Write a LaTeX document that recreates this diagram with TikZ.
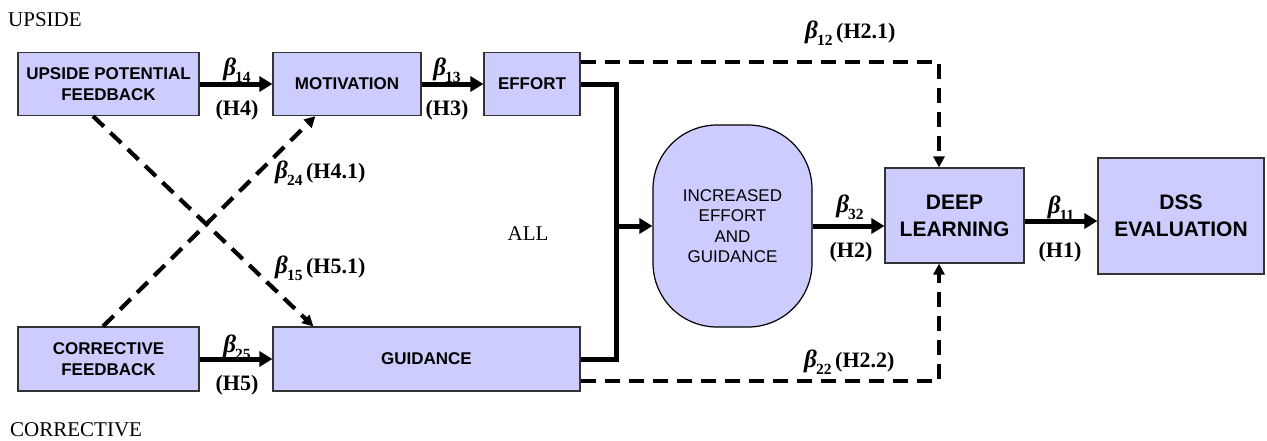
\documentclass[tikz,border=0pt]{standalone}
\usepackage{fontspec}
\setmainfont{Liberation Serif}
\setsansfont{Liberation Sans}
\usetikzlibrary{arrows.meta,calc}
\definecolor{boxfill}{HTML}{CCCCFF}
\definecolor{boxline}{HTML}{333333}
\newcommand{\bsym}[1]{{\fontsize{25}{26}\selectfont\bfseries\itshape β}\kern-1pt\raisebox{-0.3em}{\fontsize{15.5}{15.5}\selectfont\bfseries #1}}
\begin{document}
\begin{tikzpicture}[x=1pt,y=-1pt,
  box/.style={draw=boxline, line width=1.2pt, fill=boxfill, inner sep=0pt, align=center,
    font=\sffamily\bfseries\fontsize{17}{21.5}\selectfont},
  bigbox/.style={box, font=\sffamily\bfseries\fontsize{21}{27}\selectfont},
  blob/.style={draw=black, line width=1.2pt, fill=boxfill, inner sep=0pt, align=center,
    rounded corners=64pt, font=\sffamily\fontsize{17}{20.5}\selectfont},
  solidarr/.style={line width=5pt, -{Triangle[length=13pt,width=15pt]}},
  solidline/.style={line width=5pt},
  dashline/.style={line width=4.2pt, dash pattern=on 15pt off 9pt},
  dasharr/.style={dashline, -{Triangle[length=11pt,width=11pt]}},
  lbl/.style={inner sep=0pt, font=\bfseries\fontsize{22}{26}\selectfont},
  plain/.style={inner sep=0pt, font=\fontsize{21}{25}\selectfont}
]
\fill[white] (0,0) rectangle (1267,440);
\useasboundingbox (0,0) rectangle (1267,440);

% boxes
\node[box, minimum width=181pt, minimum height=63pt] (upf) at (108.5,84) {UPSIDE POTENTIAL\\FEEDBACK};
\node[box, minimum width=148pt, minimum height=63pt] (mot) at (347,84) {MOTIVATION};
\node[box, minimum width=96pt, minimum height=63pt] (eff) at (532,84) {EFFORT};
\node[box, minimum width=181pt, minimum height=64pt] (cf) at (108.5,359) {CORRECTIVE\\FEEDBACK};
\node[box, minimum width=307pt, minimum height=64pt] (gui) at (426.5,359) {GUIDANCE};
\node[blob, minimum width=159pt, minimum height=202pt] (ieg) at (732.5,226) {INCREASED\\EFFORT\\AND\\GUIDANCE};
\node[bigbox, minimum width=139pt, minimum height=95pt] (dl) at (954.5,215.5) {DEEP\\LEARNING};
\node[bigbox, minimum width=166pt, minimum height=116pt] (dss) at (1181,216) {DSS\\EVALUATION};

% helper coordinates
\coordinate (jm) at (616,226);
\coordinate (dlt) at ($(dl.north)+(-15.5,0)$);
\coordinate (dlb) at ($(dl.south)+(-15.5,0)$);

% solid connectors
\draw[solidarr] (upf.east) -- (mot.west);
\draw[solidarr] (mot.east) -- (eff.west);
\draw[solidarr] (cf.east) -- (gui.west);
\draw[solidline] (eff.east) -| (jm) |- (gui.east);
\draw[solidarr] (jm) -- (ieg.west);
\draw[solidarr] (ieg.east) -- (ieg.east -| dl.west);
\draw[solidarr] ($(dl.east)+(0,5.5)$) -- ($(dl.east -| dss.west)+(0,5.5)$);

% dashed connectors
\draw[dasharr] ($(eff.north east)+(0,10)$) -| (dlt);
\draw[dasharr] ($(gui.south east)+(0,-11)$) -| (dlb);
\draw[dasharr] ($(upf.south)+(-15.5,0)$) -- ($(gui.north west)+(41,0)$);
\draw[dasharr] ($(cf.north)+(-5.5,0)$) -- ($(mot.south west)+(43,0)$);

% labels
\node[lbl] (b14) at (237,70) {\bsym{14}};
\node[lbl] (h4) at (237,110) {(H4)};
\node[lbl] (b13) at (447,70) {\bsym{13}};
\node[lbl] (h3) at (447,110) {(H3)};
\node[lbl] (b25) at (237,347) {\bsym{25}};
\node[lbl] (h5) at (237,385) {(H5)};
\node[lbl] (b32) at (850,207) {\bsym{32}};
\node[lbl] (h2) at (851,252) {(H2)};
\node[lbl] (b11) at (1061,208) {\bsym{11}};
\node[lbl] (h1) at (1060,252) {(H1)};
\node[lbl, anchor=west] (b12) at (805,33) {\bsym{12}\,(H2.1)};
\node[lbl, anchor=west] (b22) at (804,362) {\bsym{22}\,(H2.2)};
\node[lbl, anchor=west] (b24) at (275,173) {\bsym{24}\,(H4.1)};
\node[lbl, anchor=west] (b15) at (275,268) {\bsym{15}\,(H5.1)};

\node[plain, anchor=west] (up) at (8,20) {UPSIDE};
\node[plain, anchor=west] (co) at (10,430) {CORRECTIVE};
\node[plain] (all) at (528,234) {ALL};
\end{tikzpicture}
\end{document}
